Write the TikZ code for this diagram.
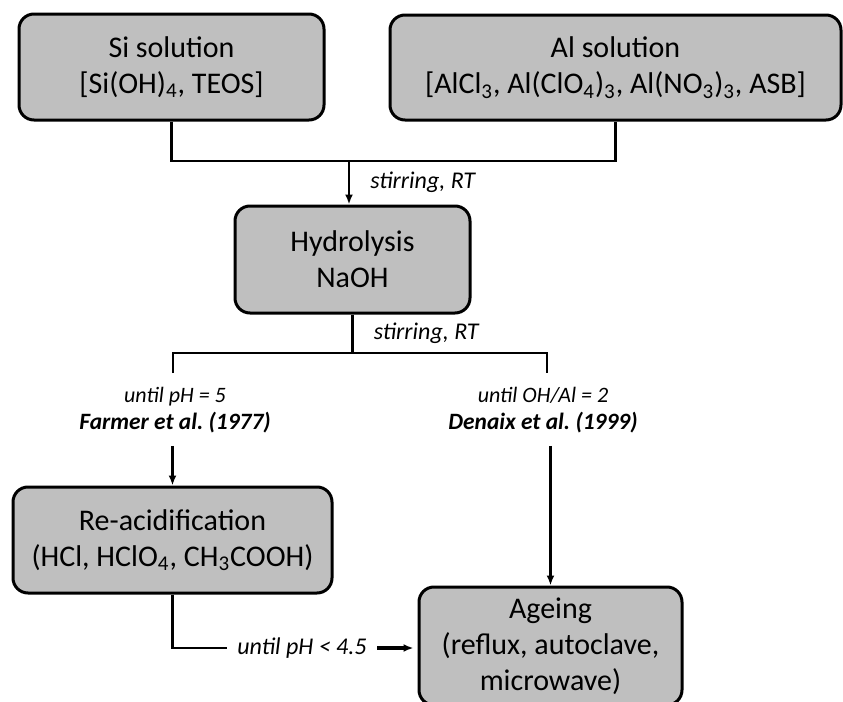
\documentclass[tikz,border=0pt]{standalone}
\usepackage{fontspec}
\setmainfont{Carlito}[ItalicFont=Carlito Italic,BoldFont=Carlito Bold,BoldItalicFont=Carlito Bold Italic]
\usetikzlibrary{arrows.meta,positioning}
\definecolor{boxgray}{RGB}{191,191,191}
\newcommand{\refcite}[1]{{\fontsize{11.7}{13.5}\selectfont\bfseries #1}}
\begin{document}
\begin{tikzpicture}[
  x=0.5pt,y=-0.5pt,
  stage/.style={draw,line width=1.5pt,rounded corners=7.5pt,fill=boxgray,align=center,
    font=\fontsize{15}{18}\selectfont,inner sep=0pt},
  note/.style={align=center,font=\fontsize{11}{13.5}\selectfont\itshape,inner sep=0pt},
  cond/.style={note,font=\fontsize{12}{14}\selectfont\itshape},
  link/.style={line width=1.3pt},
  arrow/.style={-{Latex[length=5pt,width=4pt]},line width=1.3pt}
]
\useasboundingbox (0,0) rectangle (843,702);
\node[stage,minimum width=152.5pt,minimum height=53pt] (si) at (171.5,67)
  {Si solution\\{[}Si(OH)\textsubscript{4}, TEOS{]}};
\node[stage,minimum width=225.5pt,minimum height=52.5pt] (al) at (615.5,67.5)
  {Al solution\\{[}AlCl\textsubscript{3}, Al(ClO\textsubscript{4})\textsubscript{3}, Al(NO\textsubscript{3})\textsubscript{3}, ASB{]}};
\node[stage,minimum width=117.5pt,minimum height=53.5pt] (hyd) at (352.5,259.5)
  {Hydrolysis\\NaOH};
\node[stage,minimum width=159.5pt,minimum height=53pt] (reacid) at (172.5,540)
  {Re-acidification\\(HCl, HClO\textsubscript{4}, CH\textsubscript{3}COOH)};
\node[stage,minimum width=131.5pt,minimum height=59pt] (ageing) at (550.5,646)
  {Ageing\\(reflux, autoclave,\\microwave)};
\node[note] (farmer) at (175,410.5) {until pH = 5\\\refcite{Farmer et al.\ (1977)}};
\node[note] (denaix) at (543,410.5) {until OH/Al = 2\\\refcite{Denaix et al.\ (1999)}};
\node[cond,inner xsep=5pt] (acidlbl) at (302,648) {until pH < 4.5};
\coordinate (mix) at (349,161);
\coordinate (split) at (352.5,353);
\coordinate (ldrop) at (173,373);
\coordinate (rdrop) at (547,373);
\draw[link] (si.south) |- (mix) -| (al.south);
\draw[arrow] (mix) -- (mix |- hyd.north) node[cond,pos=0.5,right=10pt] {stirring, RT};
\draw[link] (hyd.south) -- (split) node[cond,pos=0.5,right=10pt] {stirring, RT};
\draw[link] (ldrop) |- (split) -| (rdrop);
\draw[arrow,shorten <=6pt] (reacid.north |- farmer.south) -- (reacid.north);
\draw[arrow,shorten <=6pt] (ageing.north |- denaix.south) -- (ageing.north);
\draw[link] (reacid.south) |- (acidlbl.west);
\draw[arrow,line width=1.6pt,shorten >=2pt] (acidlbl.east) -- (acidlbl.east -| ageing.west);
\end{tikzpicture}
\end{document}
